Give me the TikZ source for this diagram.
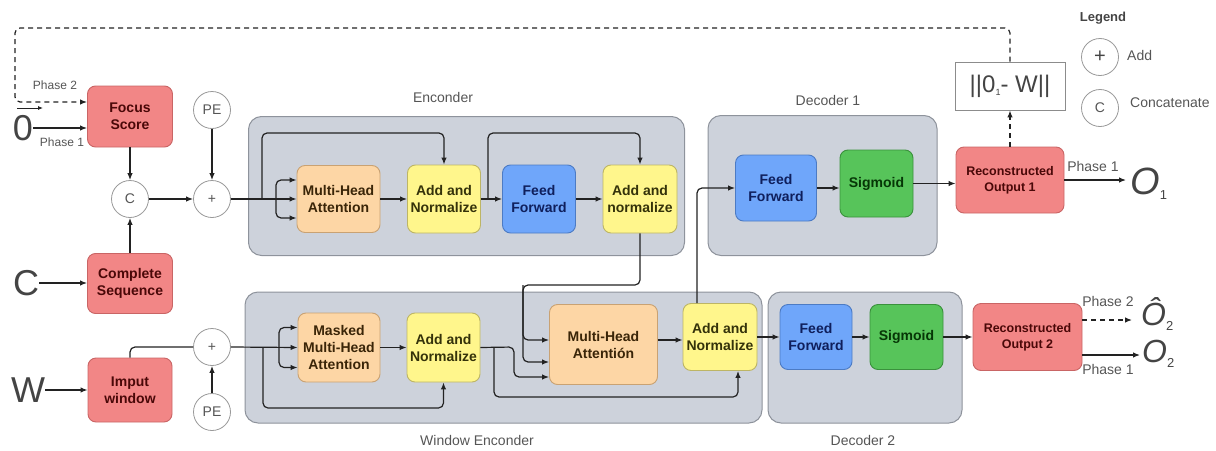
\documentclass[tikz,border=0pt]{standalone}
\usepackage{fontspec}
\setmainfont{Liberation Sans}
\usetikzlibrary{arrows.meta,calc}
\definecolor{contf}{HTML}{CDD2DB}
\definecolor{contd}{HTML}{8E939C}
\definecolor{redf}{HTML}{F28686}
\definecolor{redd}{HTML}{C96565}
\definecolor{redt}{HTML}{4A0808}
\definecolor{orf}{HTML}{FDD6A5}
\definecolor{ord}{HTML}{C9A273}
\definecolor{ort}{HTML}{3A2508}
\definecolor{yef}{HTML}{FFF68C}
\definecolor{yed}{HTML}{BDB565}
\definecolor{yet}{HTML}{34320A}
\definecolor{blf}{HTML}{6FA6FA}
\definecolor{bld}{HTML}{4C7BC4}
\definecolor{blt}{HTML}{0F1F5C}
\definecolor{grf}{HTML}{57C45A}
\definecolor{grd}{HTML}{3A913C}
\definecolor{grt}{HTML}{063606}
\definecolor{linec}{HTML}{222222}
\definecolor{txtg}{HTML}{555555}
\definecolor{bigc}{HTML}{444444}
\tikzset{
  cont/.style={draw=contd, fill=contf, rounded corners=13pt, line width=1pt, inner sep=0pt},
  sz/.style 2 args={minimum width=#1, minimum height=#2},
  blk/.style={rounded corners=8pt, line width=0.9pt, align=center, inner sep=1pt,
    font=\fontsize{14}{17}\selectfont\bfseries},
  redb/.style={blk, draw=redd, fill=redf, text=redt},
  orb/.style={blk, draw=ord, fill=orf, text=ort},
  yeb/.style={blk, draw=yed, fill=yef, text=yet},
  blb/.style={blk, draw=bld, fill=blf, text=blt},
  grb/.style={blk, draw=grd, fill=grf, text=grt},
  circ/.style={circle, draw=black!40, fill=white, minimum size=37pt, inner sep=0pt,
    line width=0.8pt, font=\fontsize{14}{14}\selectfont, text=txtg},
  lbl/.style={font=\fontsize{14}{14}\selectfont, text=txtg, inner sep=0pt},
  smalllbl/.style={font=\fontsize{12}{12}\selectfont, text=txtg, inner sep=0pt},
  bigtxt/.style={font=\fontsize{36}{36}\selectfont, text=bigc, inner sep=0pt},
  arr/.style={draw=linec, line width=1.2pt, -{Latex[length=7pt,width=5.5pt]}, rounded corners=5pt},
  ln/.style={draw=linec, line width=1.2pt, rounded corners=5pt},
  dasharr/.style={arr, dash pattern=on 5pt off 4pt},
}
\begin{document}
\begin{tikzpicture}[x=1pt,y=-1pt]
\useasboundingbox (0,0) rectangle (1216,450);

% containers
\node[cont, sz={436pt}{139pt}] (enc) at (466.5,186) {};
\node[cont, sz={229pt}{140pt}] (dec1) at (822.5,185.5) {};
\node[cont, sz={517pt}{131pt}] (wenc) at (503.5,357.5) {};
\node[cont, sz={194pt}{131pt}] (dec2) at (865,357.5) {};
\node[lbl] (enclbl) at (443,97) {Enconder};
\node[lbl] (dec1lbl) at (828,100) {Decoder 1};
\node[lbl] (wenclbl) at (477,440) {Window Enconder};
\node[lbl] (dec2lbl) at (863,440) {Decoder 2};

% left inputs
\node[bigtxt] (Obig) at (23,128) {0};
\node[bigtxt] (Cbig) at (26,283) {C};
\node[bigtxt] (Wbig) at (28,390) {W};
\coordinate (vecA) at (17,108);
\coordinate (vecB) at (43,108);
\draw[draw=linec, line width=0.8pt, -{Latex[length=5pt,width=4pt]}] (vecA) -- (vecB);

\node[redb, sz={85pt}{61pt}] (focus) at (130,116.5) {Focus\\Score};
\node[redb, sz={85pt}{60pt}] (complete) at (130,283.5) {Complete\\Sequence};
\node[redb, sz={84pt}{64pt}] (imput) at (130,390) {Imput\\window};

\node[circ] (concat) at (130,199) {C};
\node[circ] (plus1) at (212,199) {+};
\node[circ] (pe1) at (212,110) {PE};
\node[circ] (plus2) at (212,347) {+};
\node[circ] (pe2) at (212,412) {PE};

\node[smalllbl] (ph2l) at (55,85) {Phase 2};
\node[smalllbl] (ph1l) at (62,142) {Phase 1};

% encoder blocks
\node[orb, sz={83pt}{67pt}] (mha1) at (338.5,199) {Multi-Head\\Attention};
\node[yeb, sz={73pt}{68pt}] (an1) at (444,199) {Add and\\Normalize};
\node[blb, sz={73pt}{68pt}] (ffe) at (539,199) {Feed\\Forward};
\node[yeb, sz={74pt}{68pt}] (an2) at (640,199) {Add and\\normalize};

% decoder 1
\node[blb, sz={81pt}{66pt}] (ff1) at (776,188) {Feed\\Forward};
\node[grb, sz={73pt}{67pt}] (sig1) at (876.5,183.5) {Sigmoid};
\node[redb, sz={108pt}{66pt}, font=\fontsize{12.5}{16}\selectfont\bfseries] (ro1) at (1010,180) {Reconstructed\\Output 1};
\node[draw=black!45, fill=white, line width=0.9pt, sz={110pt}{48pt}, inner sep=0pt,
  font=\fontsize{24}{24}\selectfont, text=bigc] (norm) at (1010,86)
  {||0{\fontsize{9}{9}\selectfont\raisebox{-3pt}{1}}- W||};

% window encoder
\node[orb, sz={82pt}{69pt}] (mmha) at (339,347.5) {Masked\\Multi-Head\\Attention};
\node[yeb, sz={73pt}{69pt}] (anw) at (443.5,347.5) {Add and\\Normalize};
\node[orb, sz={108pt}{80pt}] (mha2) at (603.5,344.5) {Multi-Head\\Attentión};
\node[yeb, sz={74pt}{67pt}] (an3) at (720,337) {Add and\\Normalize};

% decoder 2
\node[blb, sz={72pt}{65pt}] (ff2) at (816,337) {Feed\\Forward};
\node[grb, sz={73pt}{65pt}] (sig2) at (906.5,337) {Sigmoid};
\node[redb, sz={109pt}{67pt}, font=\fontsize{12.5}{16}\selectfont\bfseries] (ro2) at (1027.5,337) {Reconstructed\\Output 2};

% legend
\node[font=\fontsize{13}{13}\selectfont\bfseries, text=bigc, inner sep=0pt] (legend) at (1103,18) {Legend};
\node[circ, font=\fontsize{20}{20}\selectfont, text=bigc] (legplus) at (1100,57) {+};
\node[circ] (legc) at (1100,108) {C};
\node[lbl, anchor=west] (legadd) at (1127,55) {Add};
\node[lbl, anchor=west] (legcat) at (1130,103) {Concatenate};

% helper coordinates
\coordinate (y102) at (0,102);
\coordinate (tl) at (15,28);
\coordinate (f1) at (276,199);
\coordinate (r1) at (262,199);
\coordinate (r1t) at (262,133);
\coordinate (r2) at (488,199);
\coordinate (r2t) at (488,133);
\coordinate (d2) at (523,285);
\coordinate (y340) at (0,340);
\coordinate (y362) at (0,362);
\coordinate (y377) at (0,377);
\coordinate (w1) at (514,347);
\coordinate (w2) at (494,347);
\coordinate (w2b) at (494,397);
\coordinate (wr) at (263,347);
\coordinate (wrb) at (263,408);
\coordinate (wf) at (279,347);
\coordinate (u1) at (697,188);

% left side connections
\draw[dasharr] (norm.north) |- (tl) |- (focus.west |- y102);
\draw[arr] (Obig.east) -- (focus.west |- Obig.east);
\draw[arr] (Cbig.east) -- (complete.west |- Cbig.east);
\draw[arr] (Wbig.east) -- (imput.west |- Wbig.east);
\draw[arr] (focus.south) -- (concat.north);
\draw[arr] (complete.north) -- (concat.south);
\draw[arr] (concat.east) -- (plus1.west);
\draw[arr] (pe1.south) -- (plus1.north);
\draw[ln] (imput.north) |- (plus2.west);
\draw[arr] (pe2.north) -- (plus2.south);

% encoder connections
\draw[arr] (plus1.east) -- (mha1.west);
\draw[arr] (f1) |- ([yshift=19pt]mha1.west);
\draw[arr] (f1) |- ([yshift=-19pt]mha1.west);
\draw[arr] (r1) -- (r1t) -| (an1.north);
\draw[arr] (mha1.east) -- (an1.west);
\draw[arr] (an1.east) -- (ffe.west);
\draw[arr] (r2) -- (r2t) -| (an2.north);
\draw[arr] (ffe.east) -- (an2.west);
\draw[arr] (an2.south) |- (d2) |- (mha2.west |- y340);
\draw[arr] (d2) |- (mha2.west |- y362);

% window encoder connections
\draw[arr] (plus2.east) -- (mmha.west);
\draw[arr] (wf) |- ([yshift=20pt]mmha.west);
\draw[arr] (wf) |- ([yshift=-20pt]mmha.west);
\draw[arr] (wr) -- (wrb) -| (anw.south);
\draw[arr] (mmha.east) -- (anw.west);
\draw[arr] (anw.east) -- (w1) |- (mha2.west |- y377);
\draw[arr] (w2) -- (w2b) -| ([xshift=18pt]an3.south);
\draw[arr] (mha2.east |- y340) -- (an3.west |- y340);

% decoders
\draw[arr] (an3.north -| u1) |- (ff1.west |- u1);
\draw[arr] (ff1.east) -- (ff1.east -| sig1.west);
\draw[arr] (sig1.east) -- (sig1.east -| ro1.west);
\draw[dasharr] (ro1.north) -- (norm.south);
\draw[arr] (an3.east) -- (ff2.west);
\draw[arr] (ff2.east) -- (sig2.west);
\draw[arr] (sig2.east) -- (ro2.west);

% outputs
\coordinate (o1e) at (1126,180);
\draw[arr] (ro1.east) -- (o1e);
\node[lbl] (ph1a) at (1093,166) {Phase 1};
\node[anchor=west, inner sep=0pt, text=bigc] (o1) at (1130,184)
  {{\fontsize{38}{38}\selectfont\itshape O}{\fontsize{13}{13}\selectfont\raisebox{-5pt}{1}}};

\coordinate (o2a) at (1132,320);
\coordinate (o2b) at (1140,355);
\draw[dasharr] (ro2.east |- o2a) -- (o2a);
\draw[arr] (ro2.east |- o2b) -- (o2b);
\node[lbl] (ph2b) at (1108,301) {Phase 2};
\node[lbl] (ph1b) at (1108,369) {Phase 1};
\node[anchor=west, inner sep=0pt, text=bigc] (o2hat) at (1141,314)
  {{\fontsize{32}{32}\selectfont\itshape Ô}{\fontsize{13}{13}\selectfont\raisebox{-5pt}{2}}};
\node[anchor=west, inner sep=0pt, text=bigc] (o2) at (1142,354)
  {{\fontsize{32}{32}\selectfont\itshape O}{\fontsize{13}{13}\selectfont\raisebox{-5pt}{2}}};
\end{tikzpicture}
\end{document}
